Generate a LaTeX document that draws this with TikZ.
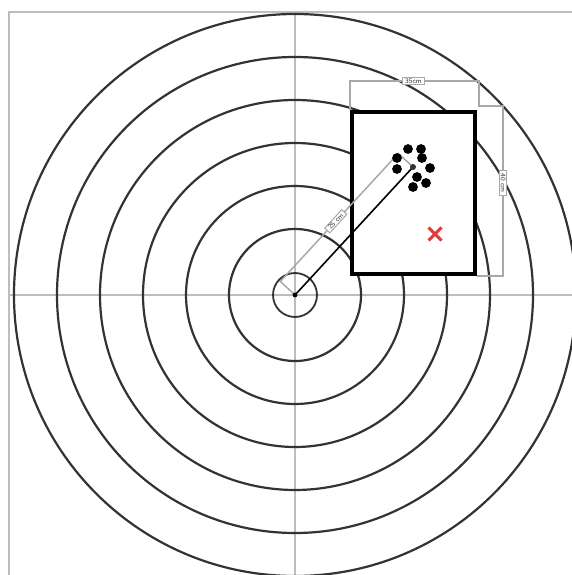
\documentclass[tikz,border=0pt]{standalone}
\usetikzlibrary{shapes.misc, positioning, calc}
\definecolor{ringStroke}{HTML}{333333}
\definecolor{guideStroke}{HTML}{BDBDBD}
\definecolor{dimStroke}{HTML}{A8A8A8}
\definecolor{hitRed}{HTML}{E53935}
\tikzset{
  target/.style = {
    x=1pt, y=-1pt,
    font=\sffamily\fontsize{7}{8}\selectfont,
  },
  ring/.style = {draw=ringStroke, line width=2.2pt},
  guide/.style = {draw=guideStroke, line width=1.3pt},
  dimline/.style = {draw=dimStroke, line width=1.5pt},
  dimlbl/.style = {
    draw=dimStroke, fill=white, line width=1pt,
    inner xsep=3pt, inner ysep=1pt, text=black!80,
  },
  group/.style = {
    rectangle, draw=black, fill=white, line width=4.2pt,
    minimum width=123pt, minimum height=162pt, inner sep=0pt,
  },
  shot/.style = {fill=black},
  miss/.style = {
    cross out, draw=hitRed, line width=3pt, minimum size=10pt, inner sep=0pt,
  },
}

\begin{document}
\begin{tikzpicture}[target]
\useasboundingbox (0,0) rectangle (572,575);
\clip (0,0) rectangle (572,575);

\coordinate (c) at (295,295);
\coordinate (g) at (413,167);

\draw[guide] (9,12) rectangle (600,600);
\draw[guide] (9,295) -- (600,295);
\draw[guide] (295,12) -- (295,600);

\foreach \r in {66,109,152,195,238,281}
  \draw[ring] (c) circle (\r pt);
\draw[ring, line width=1.8pt] (c) circle (22pt);

\node[group] (box) at (413.5,193) {};

\draw[dimline] (box.north west) -- ++(0,-29)
  -| ($(box.north east)+(2,-4)$) -- ++(24,0) |- (box.south east);
\node[dimlbl] (w) at ($(box.north)+(0,-29)$) {35cm};
\node[dimlbl, rotate=-90] (h) at ($(box.east)+(26,-10)$) {40 cm};

\draw[dimline] (c) -- ($(c)!20pt!90:(g)$) coordinate (r1)
  -- node[dimlbl, sloped, pos=0.47] (d) {25 cm}
  ($(g)!20pt!-90:(c)$) coordinate (r2) -- (g);

\draw[line width=1.6pt] (c) -- (g);
\fill (c) circle (2.4pt);

\foreach \p in {(408,149),(421,149),(397,158),(422,158),(397,169),
                (430,168),(417,177),(426,183),(413,187)}
  \fill[shot] \p circle (4.9pt);
\fill[ringStroke] (g) circle (3pt);

\node[miss] (hit) at (435,234) {};

\end{tikzpicture}
\end{document}
